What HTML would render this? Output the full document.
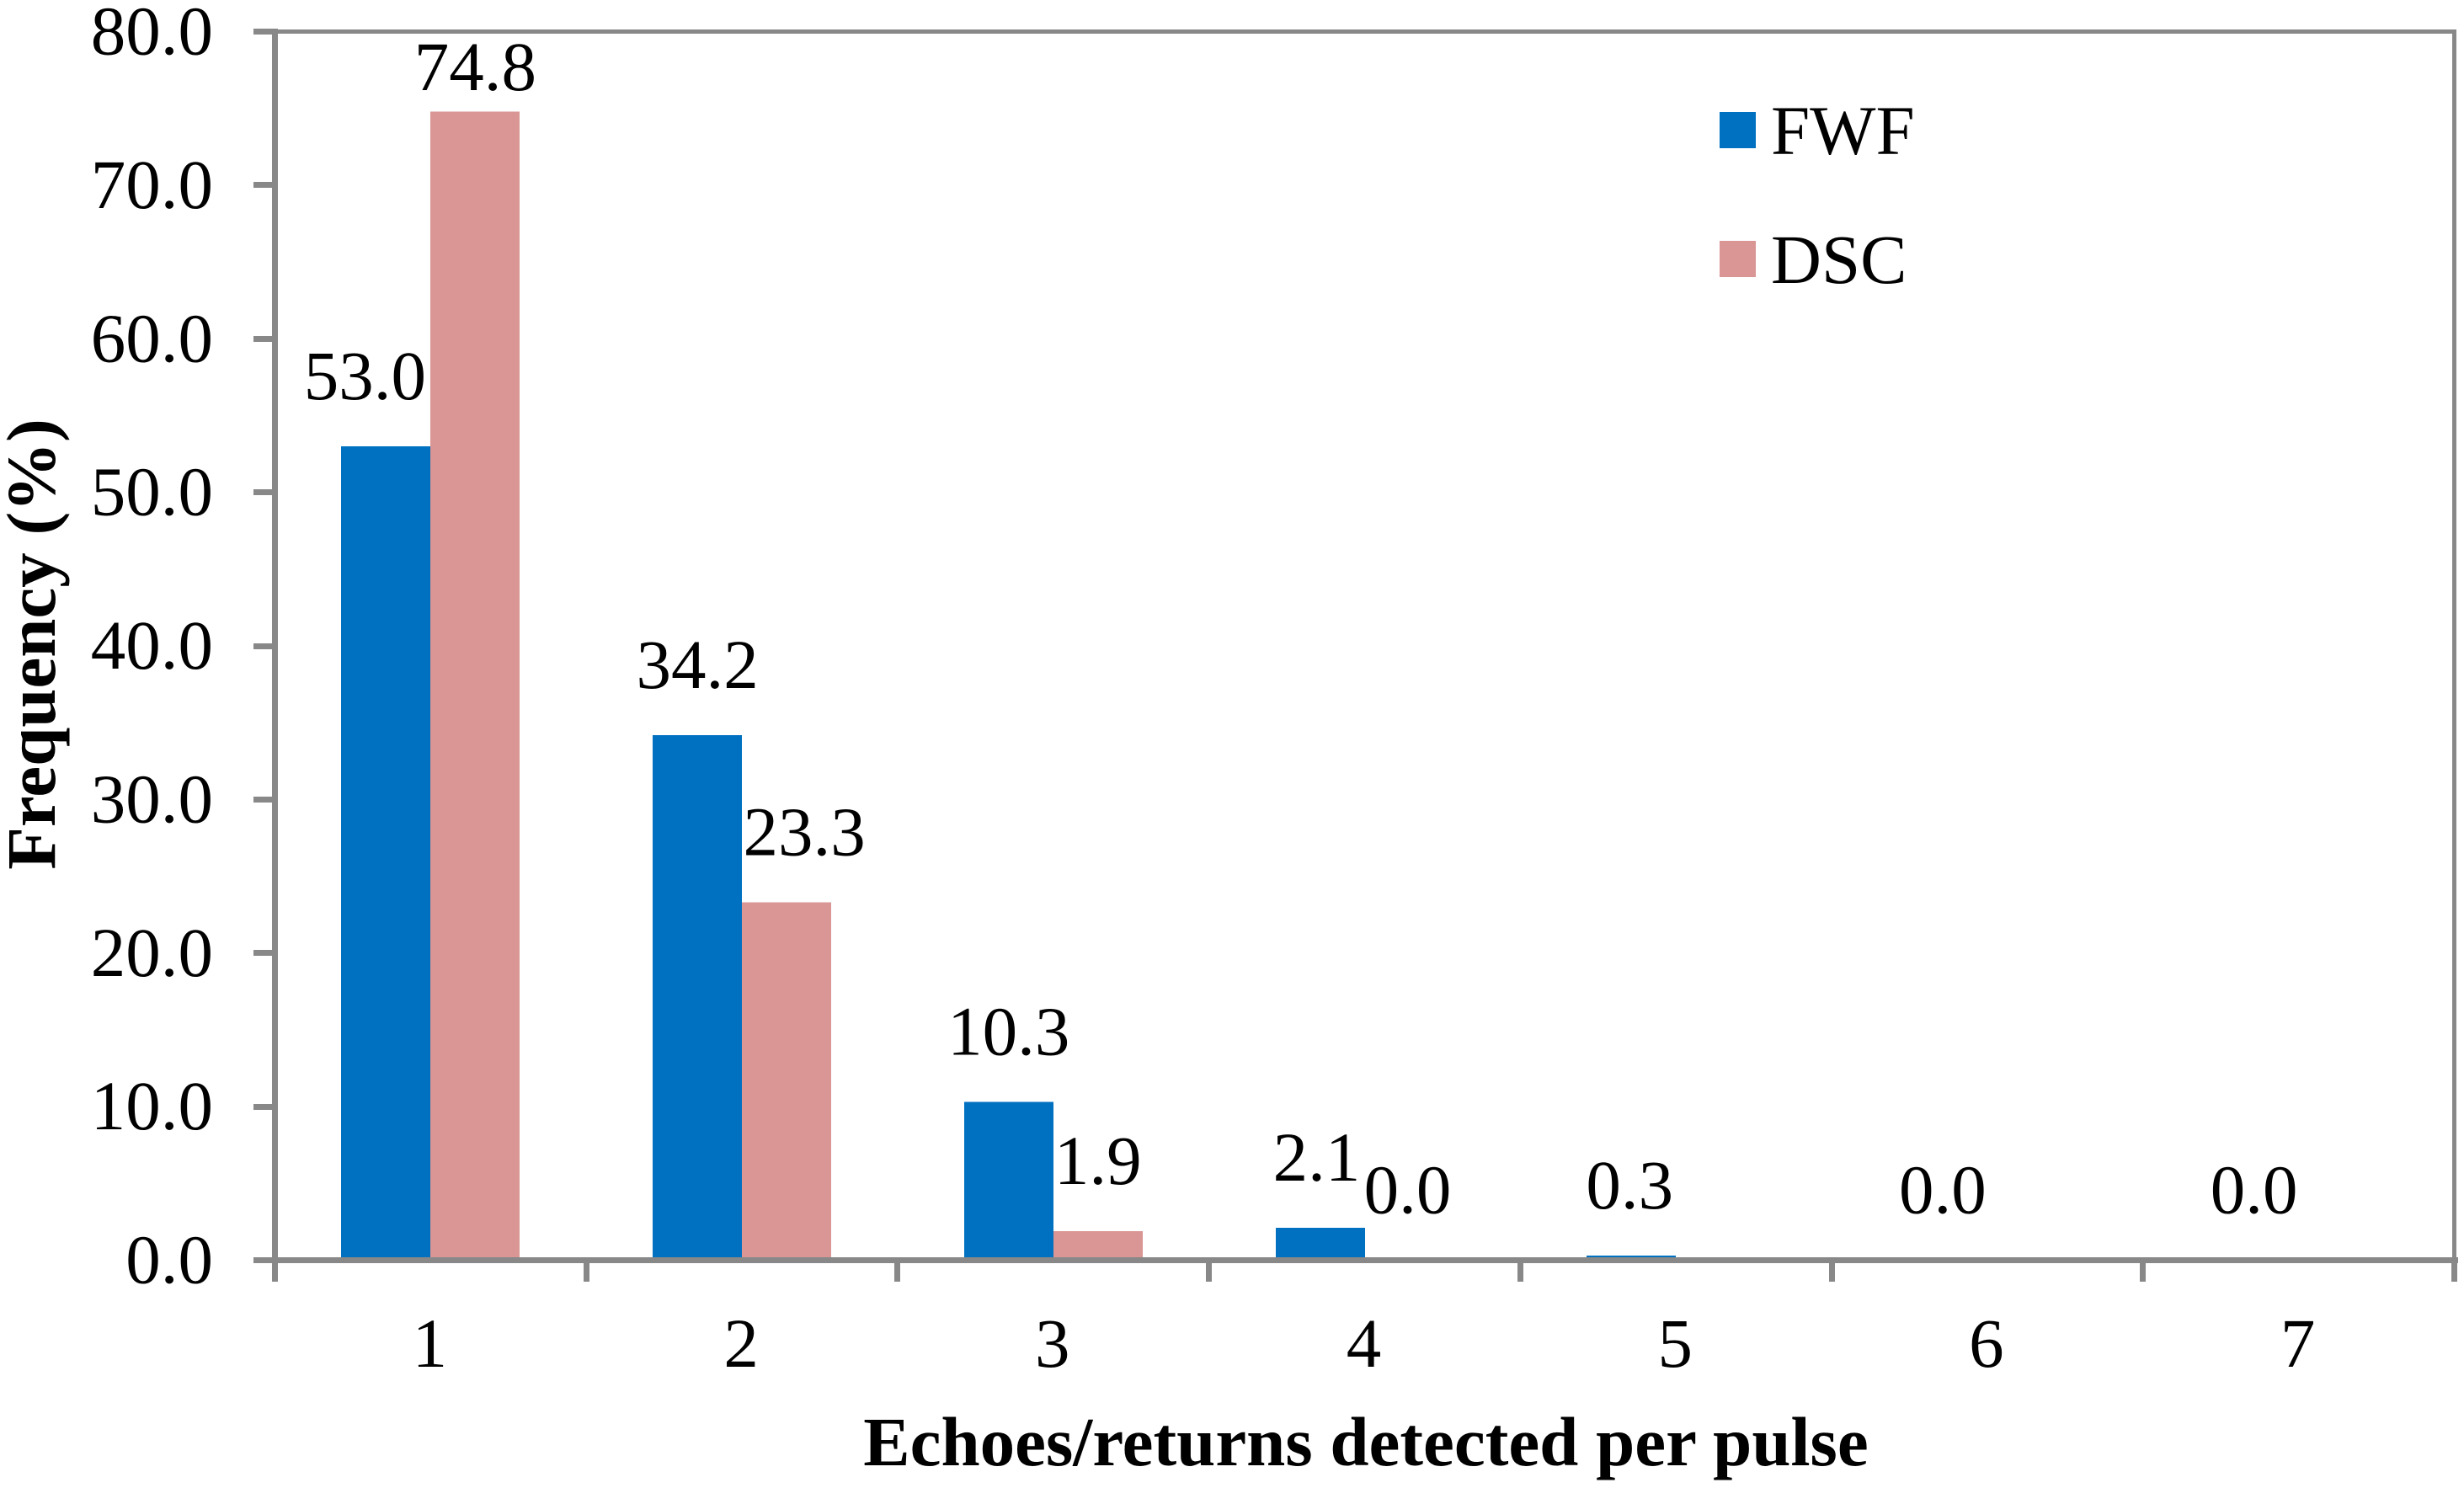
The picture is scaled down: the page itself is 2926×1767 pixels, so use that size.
<!DOCTYPE html>
<html lang="en">
<head>
<meta charset="utf-8">
<title>Echoes/returns detected per pulse</title>
<style>
  html, body { margin: 0; padding: 0; background: #fff; }
  svg { display: block; }
  text { font-family: "Liberation Serif", "Times New Roman", serif; font-size: 83px; fill: #000; }
  .bold { font-weight: bold; }
</style>
</head>
<body>
<svg id="chart" xmlns="http://www.w3.org/2000/svg" width="2926" height="1767" viewBox="0 0 2926 1767">
  <rect x="0" y="0" width="2926" height="1767" fill="#ffffff"/>
  <g id="bars"></g>
  <g id="axes"></g>
  <g id="tick-labels"></g>
  <g id="value-labels"></g>
  <text class="bold" text-anchor="middle" transform="translate(65,765) rotate(-90)">Frequency (%)</text>
  <text class="bold" text-anchor="middle" x="1622" y="1740">Echoes/returns detected per pulse</text>
  <g>
    <rect x="2042" y="133" width="43" height="43" fill="#0070c0"/>
    <text x="2103" y="183">FWF</text>
    <rect x="2042" y="286" width="43" height="43" fill="#d99694"/>
    <text x="2103" y="336">DSC</text>
  </g>
</svg>
<script>
const categories = ['1', '2', '3', '4', '5', '6', '7'];
const fwfValues = [53.0, 34.2, 10.3, 2.1, 0.3, 0.0, 0.0];
const dscValues = [74.8, 23.3, 1.9, 0.0, null, null, null];
const yTickValues = [0, 10, 20, 30, 40, 50, 60, 70, 80];
const yTickLabels = ['0.0', '10.0', '20.0', '30.0', '40.0', '50.0', '60.0', '70.0', '80.0'];

const NS = 'http://www.w3.org/2000/svg';
const plot = { left: 326.5, right: 2914.5, y0: 1496.5, yPerUnit: 18.2375, barWidth: 106 };
const groupWidth = (plot.right - plot.left) / categories.length;
const xCenter = i => plot.left + groupWidth * (i + 0.5);
const yScale = v => plot.y0 - v * plot.yPerUnit;

function make(tag, parent, props) {
  const el = document.createElementNS(NS, tag);
  for (const k in props) el.setAttribute(k, props[k]);
  parent.appendChild(el);
  return el;
}

const barsG = document.getElementById('bars');
const axesG = document.getElementById('axes');
const tickG = document.getElementById('tick-labels');
const valueG = document.getElementById('value-labels');
const AXIS = '#888888';

function drawBar(v, i, side, color, name) {
  const c = xCenter(i);
  const x = Math.round(side < 0 ? c - plot.barWidth : c);
  const top = yScale(v);
  const r = make('rect', barsG, { x: x, y: top, width: plot.barWidth, height: plot.y0 - top, fill: color, 'shape-rendering': 'crispEdges' });
  
  
}

// Small hand adjustments mirroring where the original label boxes were dragged.
const nudgeFwf = { 0: -25, 3: -4, 4: -2 };
const nudgeDsc = { 1: 21, 3: -2 };

function drawValueLabel(v, i, side, nudge, name) {
  const x = xCenter(i) + side * plot.barWidth / 2 + (nudge[i] || 0);
  const y = Math.max(107, yScale(v) - 56);
  const t = make('text', valueG, { x: x, y: y, 'text-anchor': 'middle' });
  t.textContent = v.toFixed(1);
  
  
}

categories.forEach((cat, i) => {
  if (fwfValues[i] !== null) {
    drawBar(fwfValues[i], i, -1, '#0070c0', 'bar-fwf-' + cat);
    drawValueLabel(fwfValues[i], i, -1, nudgeFwf, 'value-label-fwf-' + cat);
  }
  if (dscValues[i] !== null) {
    drawBar(dscValues[i], i, 1, '#d99694', 'bar-dsc-' + cat);
    drawValueLabel(dscValues[i], i, 1, nudgeDsc, 'value-label-dsc-' + cat);
  }
  const lab = make('text', tickG, { x: xCenter(i) - 1, y: 1623, 'text-anchor': 'middle' });
  lab.textContent = cat;
  
  
});

// Plot frame and axis lines
const frameTop = make('rect', axesG, { x: 330, y: 35, width: 2587, height: 5, fill: AXIS, 'shape-rendering': 'crispEdges' });


const frameRight = make('rect', axesG, { x: 2912, y: 35, width: 5, height: 1460, fill: AXIS, 'shape-rendering': 'crispEdges' });


const yAxis = make('rect', axesG, { x: 323, y: 34, width: 7, height: 1488, fill: AXIS, 'shape-rendering': 'crispEdges' });


const xAxis = make('rect', axesG, { x: 301, y: 1493, width: 2618, height: 7, fill: AXIS, 'shape-rendering': 'crispEdges' });



// Y ticks and labels
yTickValues.forEach((v, i) => {
  const y = yScale(v);
  const tick = make('rect', axesG, { x: 301, y: Math.round(y - 3.5), width: 24, height: 7, fill: AXIS, 'shape-rendering': 'crispEdges' });
  
  
  const t = make('text', tickG, { x: 253, y: y + 27, 'text-anchor': 'end' });
  t.textContent = yTickLabels[i];
  
  
});

// X ticks at group boundaries
for (let i = 1; i <= categories.length; i++) {
  const x = plot.left + groupWidth * i;
  const tick = make('rect', axesG, { x: Math.round(x - 3.5), y: 1500, width: 7, height: 22, fill: AXIS, 'shape-rendering': 'crispEdges' });
  
  
}
</script>
</body>
</html>
